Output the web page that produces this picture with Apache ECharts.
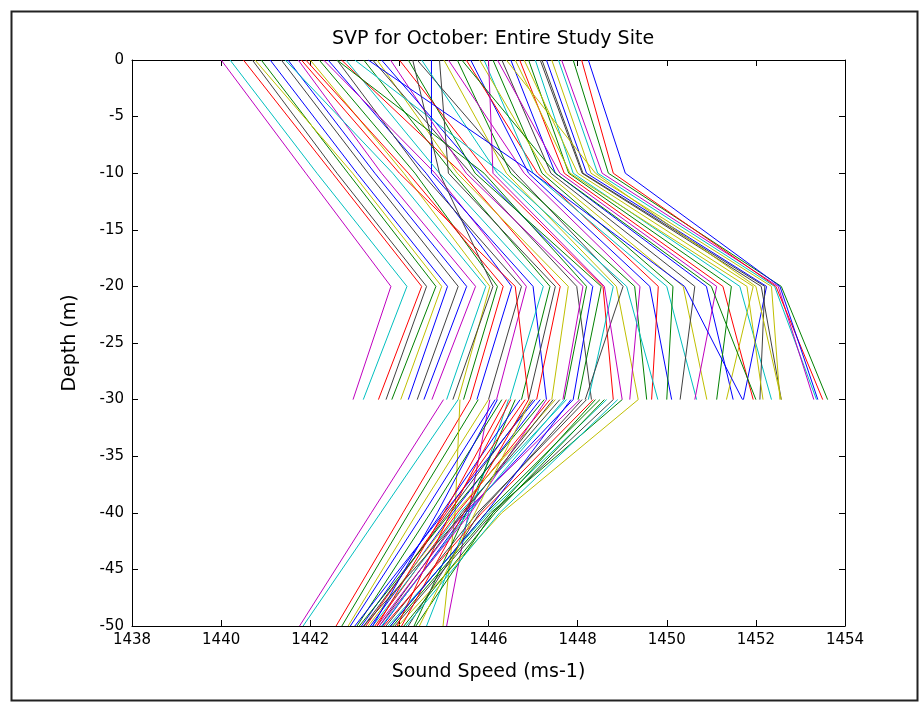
<!DOCTYPE html>
<html>
<head>
<meta charset="utf-8">
<script src="https://cdn.jsdelivr.net/npm/echarts@6/dist/echarts.min.js"></script>
<style>
html,body{margin:0;padding:0;background:#fff;}
#chart{width:924px;height:702px;}
</style>
</head>
<body>
<div id="chart"></div>
<script>
// ---------- DATA ----------
const title = 'SVP for October: Entire Study Site';
const xName = 'Sound Speed (ms-1)';
const yName = 'Depth (m)';

// Upper profiles: depths 0, -10, -20, -30 m
const depthsUpper = [0, -10, -20, -30];
const speedAt0 = [1440.00,1440.20,1440.50,1440.70,1440.90,1440.76,1441.10,1441.35,1441.50,1441.73,1441.44,1442.00,1442.20,1441.90,1442.40,1442.60,1442.30,1444.72,1442.80,1443.20,1442.70,1443.50,1443.40,1443.80,1443.60,1444.20,1444.00,1444.50,1445.00,1444.40,1445.30,1445.10,1445.60,1445.50,1445.90,1446.10,1445.80,1446.30,1446.50,1446.20,1446.70,1446.90,1447.05,1446.80,1447.16,1447.30,1447.42,1447.57,1447.64,1447.90,1447.20,1448.09,1448.24,1446.60,1442.60,1443.00,1441.80,1444.90,1446.00,1443.30,1445.40,1446.40,1444.30];
const speedAt10 = [1441.90,1442.15,1442.50,1442.60,1442.85,1442.95,1443.05,1443.30,1443.45,1443.60,1443.85,1444.10,1444.35,1444.20,1444.60,1444.50,1444.80,1444.72,1444.90,1445.20,1445.40,1445.30,1445.60,1445.50,1445.80,1445.70,1446.00,1446.20,1446.40,1446.60,1446.50,1446.80,1446.90,1447.10,1447.00,1447.20,1447.30,1447.40,1447.50,1447.60,1447.70,1447.80,1447.90,1448.00,1448.10,1448.20,1448.30,1448.45,1448.55,1448.69,1448.12,1448.80,1449.07,1447.83,1445.90,1446.30,1444.00,1445.10,1446.10,1447.00,1447.50,1448.40,1444.90];
const speedAt20 = [1443.81,1444.17,1444.50,1444.61,1444.82,1444.95,1445.08,1445.32,1445.51,1445.71,1445.94,1446.03,1446.20,1446.33,1446.52,1446.74,1446.85,1447.00,1447.23,1447.38,1447.61,1447.79,1447.98,1448.12,1448.34,1448.53,1448.57,1448.80,1448.87,1449.02,1449.28,1449.40,1449.62,1449.81,1450.00,1450.14,1450.37,1450.63,1450.89,1451.12,1451.26,1451.45,1451.64,1451.94,1452.12,1452.24,1452.35,1452.42,1452.50,1452.57,1452.20,1452.45,1452.54,1451.80,1448.20,1449.10,1446.60,1447.50,1448.60,1450.40,1451.00,1452.00,1446.10];
const speedAt30 = [1442.96,1443.19,1443.53,1443.70,1443.83,1444.03,1444.20,1444.40,1444.55,1444.73,1445.06,1445.32,1445.44,1445.59,1445.74,1446.00,1446.18,1447.30,1446.48,1446.74,1447.08,1447.42,1448.31,1447.67,1447.90,1448.01,1448.80,1448.24,1449.36,1448.17,1449.55,1449.17,1450.11,1449.66,1450.67,1450.00,1450.90,1450.30,1451.49,1450.63,1451.94,1451.12,1452.35,1451.34,1452.57,1451.72,1452.54,1453.36,1453.30,1453.61,1452.09,1453.50,1453.39,1452.16,1447.70,1449.80,1446.90,1446.90,1449.00,1451.70,1452.00,1452.57,1445.20];

// Lower profiles: depths -30, -40, -50 m
const depthsLower = [-30, -40, -50];
const lowerAt30 = [1444.99,1445.32,1445.59,1445.77,1445.36,1446.03,1446.15,1446.30,1446.45,1446.60,1446.71,1446.82,1447.00,1447.16,1447.25,1447.38,1447.50,1447.60,1447.75,1447.90,1448.05,1448.20,1448.35,1448.50,1448.65,1448.80,1449.00,1449.36,1447.05,1446.90,1448.10,1447.70,1446.20,1448.60,1446.50,1446.00,1447.30,1448.40,1447.85,1446.40,1448.90,1447.45,1446.95];
const lowerAt40 = [1443.37,1443.58,1444.08,1444.22,1445.25,1445.55,1444.55,1444.70,1445.60,1445.50,1444.95,1445.05,1445.10,1445.20,1445.15,1445.30,1445.25,1445.40,1445.35,1445.50,1445.45,1445.75,1445.85,1445.95,1446.00,1446.10,1446.05,1446.30,1445.00,1445.45,1445.80,1445.55,1444.85,1446.15,1445.15,1444.40,1445.60,1446.10,1445.95,1445.00,1446.25,1445.45,1445.70];
const lowerAt50 = [1441.76,1441.84,1442.58,1442.71,1444.98,1445.06,1442.90,1443.05,1444.61,1444.33,1443.15,1443.25,1443.20,1443.35,1443.10,1443.45,1443.30,1443.55,1443.40,1443.62,1443.50,1443.70,1443.65,1443.80,1443.75,1443.90,1443.85,1443.97,1443.00,1444.05,1444.20,1443.60,1443.40,1444.10,1443.95,1442.85,1443.55,1444.37,1443.80,1443.50,1444.15,1443.20,1444.45];

// ---------- STYLE ----------
const matlab = {b:'#0000ff', g:'#008000', r:'#ff0000', c:'#00bfbf', m:'#bf00bf', y:'#bfbf00', k:'#404040'};
const upperColorKeys = ('mcrkgybkbmcygrbkmbcgrykmbgrcykgmbrcgykbmrgcykbycmgkrby' + 'gcrkmbgyk').split('');
const lowerColorKeys = ('mcrgymbgcgbrkbgrykcbmkrgckgybrkcbgr' + 'ymgbrcky').split('');

const series = [];
const upperCols = [speedAt0, speedAt10, speedAt20, speedAt30];
for (let i = 0; i < speedAt0.length; i++) {
  const col = matlab[upperColorKeys[i % upperColorKeys.length]];
  series.push({
    type: 'line', xAxisIndex: 0, yAxisIndex: 0,
    data: depthsUpper.map((d, j) => [upperCols[j][i], d]),
    showSymbol: false, silent: true, animation: false,
    lineStyle: {width: 1, color: col}, itemStyle: {color: col}
  });
}
const lowerCols = [lowerAt30, lowerAt40, lowerAt50];
for (let i = 0; i < lowerAt30.length; i++) {
  const col = matlab[lowerColorKeys[i % lowerColorKeys.length]];
  series.push({
    type: 'line', xAxisIndex: 0, yAxisIndex: 0,
    data: depthsLower.map((d, j) => [lowerCols[j][i], d]),
    showSymbol: false, silent: true, animation: false,
    lineStyle: {width: 1, color: col}, itemStyle: {color: col}
  });
}

const font = "'DejaVu Sans', Verdana, sans-serif";
const axisLine = {show: true, onZero: false, lineStyle: {color: '#000', width: 1}};
const tickStyle = {color: '#000', width: 1};

const chart = echarts.init(document.getElementById('chart'), null, {renderer: 'canvas'});
chart.setOption({
  backgroundColor: '#fff',
  animation: false,
  title: {
    text: title, left: 488, top: 25, textAlign: 'center',
    textStyle: {fontFamily: font, fontSize: 19, fontWeight: 'normal', color: '#000'}
  },
  grid: {left: 132, top: 60, right: 79, bottom: 76, containLabel: false},
  xAxis: [
    {
      type: 'value', position: 'bottom', min: 1438, max: 1454, interval: 2,
      name: xName, nameLocation: 'middle', nameGap: 37,
      nameTextStyle: {fontFamily: font, fontSize: 19, color: '#000'},
      axisLine: axisLine,
      axisTick: {show: true, inside: true, length: 6, lineStyle: tickStyle},
      splitLine: {show: false},
      axisLabel: {fontFamily: font, fontSize: 15, color: '#000', margin: 7, formatter: v => String(v)}
    },
    {
      type: 'value', position: 'top', min: 1438, max: 1454, interval: 2,
      axisLine: axisLine,
      axisTick: {show: true, inside: true, length: 6, lineStyle: tickStyle},
      splitLine: {show: false},
      axisLabel: {show: false}
    }
  ],
  yAxis: [
    {
      type: 'value', position: 'left', min: -50, max: 0, interval: 5,
      name: yName, nameLocation: 'middle', nameGap: 52, nameRotate: 90,
      nameTextStyle: {fontFamily: font, fontSize: 19, color: '#000'},
      axisLine: axisLine,
      axisTick: {show: true, inside: true, length: 6, lineStyle: tickStyle},
      splitLine: {show: false},
      axisLabel: {fontFamily: font, fontSize: 15, color: '#000', margin: 8, formatter: v => String(v)}
    },
    {
      type: 'value', position: 'right', min: -50, max: 0, interval: 5,
      axisLine: axisLine,
      axisTick: {show: true, inside: true, length: 6, lineStyle: tickStyle},
      splitLine: {show: false},
      axisLabel: {show: false}
    }
  ],
  graphic: [{
    type: 'rect', left: 9, top: 9, silent: true,
    shape: {width: 906, height: 689},
    style: {fill: 'none', stroke: '#222', lineWidth: 2}
  }],
  series: series
});
</script>
</body>
</html>
